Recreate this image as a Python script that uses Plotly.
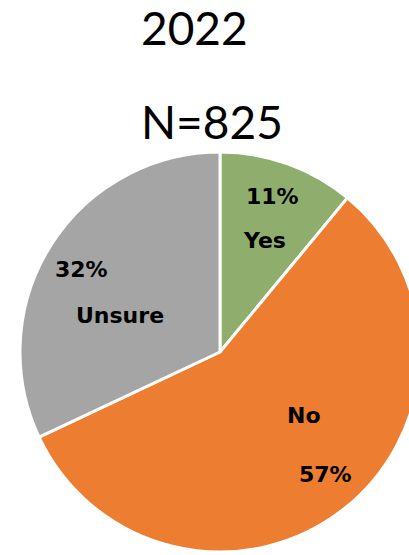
import plotly.graph_objects as go

# Survey responses, 2022
categories = ["Yes", "No", "Unsure"]
shares = [11, 57, 32]
colors = ["#8FAE6E", "#ED7D31", "#A5A5A5"]
year_label = "2022"
sample_label = "N=825"

# Figure geometry (pixels); the pie runs slightly past the right edge of the view
W, H = 440, 555
ML, MR, MT, MB = 20, 20, 152, 3
PW, PH = W - ML - MR, H - MT - MB


def px_x(x):
    return (x - ML) / PW


def px_y(y):
    return (H - MB - y) / PH


fig = go.Figure(
    go.Pie(
        labels=categories,
        values=shares,
        sort=False,
        direction="clockwise",
        rotation=0,
        marker=dict(colors=colors, line=dict(color="white", width=3)),
        textinfo="none",
        hoverinfo="label+percent",
        showlegend=False,
    )
)

label_font = dict(family="DejaVu Sans", size=22, color="black")

# Label positions for each slice: (percent label, category label)
label_pos = {
    "Yes": ((272, 196), (264, 240)),
    "No": ((325, 474), (304, 416)),
    "Unsure": ((81, 269), (120, 315)),
}

annotations = []
for cat, val in zip(categories, shares):
    (vx, vy), (cx, cy) = label_pos[cat]
    annotations.append(dict(x=px_x(vx), y=px_y(vy), xref="paper", yref="paper",
                            text=f"<b>{val}%</b>", showarrow=False,
                            xanchor="center", yanchor="middle", font=label_font))
    annotations.append(dict(x=px_x(cx), y=px_y(cy), xref="paper", yref="paper",
                            text=f"<b>{cat}</b>", showarrow=False,
                            xanchor="center", yanchor="middle", font=label_font))

title_font = dict(family="Lato", size=46, color="black")
annotations.append(dict(x=px_x(139), y=px_y(28), xref="paper", yref="paper",
                        text=year_label, showarrow=False, xanchor="left",
                        yanchor="middle", font=title_font))
annotations.append(dict(x=px_x(139), y=px_y(121), xref="paper", yref="paper",
                        text=sample_label, showarrow=False, xanchor="left",
                        yanchor="middle", font=title_font))

fig.update_layout(
    width=W,
    height=H,
    margin=dict(l=ML, r=MR, t=MT, b=MB, pad=0),
    paper_bgcolor="white",
    plot_bgcolor="white",
    annotations=annotations,
)

fig.write_html(
    "out.html",
    config={"displayModeBar": False},
    post_script="document.documentElement.style.overflow='hidden';"
                "document.body.style.overflow='hidden';"
                "document.body.style.margin='0';",
)
